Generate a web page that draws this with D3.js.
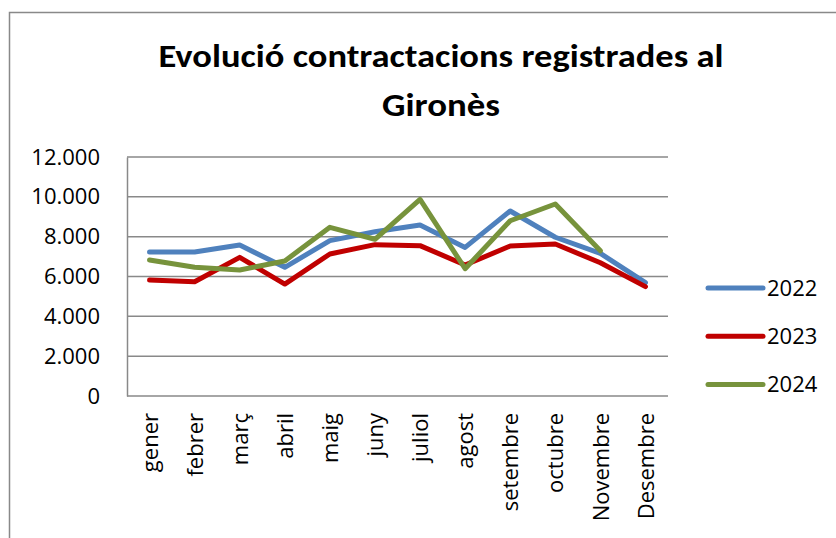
<!DOCTYPE html>
<html lang="ca">
  <head>
    <meta charset="utf-8" />
    <title>Evolució contractacions registrades al Gironès</title>
    <script src="https://d3js.org/d3.v7.min.js"></script>
    <style>
      body { margin: 0; background: #fff; }
      text { font-family: "Open Sans", sans-serif; fill: #000; }
      .title { font-family: Carlito, Calibri, Lato, sans-serif; }
    </style>
  </head>
  <body>
    <div id="chart"></div>
    <script>
      // data
      const months = ["gener", "febrer", "març", "abril", "maig", "juny", "juliol",
        "agost", "setembre", "octubre", "Novembre", "Desembre"];
      const years = ["2022", "2023", "2024"];
      const values2022 = [7230, 7230, 7580, 6460, 7800, 8250, 8590, 7460, 9290, 7970, 7160, 5690];
      const values2023 = [5820, 5740, 6960, 5620, 7130, 7600, 7550, 6580, 7530, 7630, 6690, 5490];
      const values2024 = [6830, 6460, 6330, 6780, 8470, 7870, 9870, 6390, 8800, 9640, 7290];
      const yTicks = [0, 2000, 4000, 6000, 8000, 10000, 12000];
      const titleLines = ["Evolució contractacions registrades al", "Gironès"];

      const W = 836, H = 538;
      const plot = { left: 127, right: 668, top: 157, bottom: 396 };
      const colors = ["#4f81bd", "#c00000", "#77933c"];
      const grey = "#898989";
      const labelFont = "'Open Sans', sans-serif";

      const svg = d3.select("#chart").append("svg")
        .attr("width", W).attr("height", H);

      // outer chart border (runs off the picture on right/bottom)
      svg.append("rect")
        .attr("x", 9.5).attr("y", 12.5)
        .attr("width", W + 20).attr("height", H + 20)
        .attr("fill", "none").attr("stroke", grey).attr("stroke-width", 1.5);

      // title
      svg.append("g").selectAll("text")
        .data(titleLines).enter().append("text")
        .attr("class", "title")
        .attr("x", 441)
        .attr("y", (d, i) => 67 + i * 49)
        .attr("text-anchor", "middle")
        .attr("font-size", 33)
        .attr("font-weight", "bold")
        .attr("textLength", (d, i) => i == 0 ? 565 : 118)
        .attr("lengthAdjust", "spacingAndGlyphs")
        .text(d => d);

      const x = d3.scalePoint().domain(months)
        .range([plot.left, plot.right]).padding(0.5);
      const y = d3.scaleLinear().domain([0, 12000])
        .range([plot.bottom, plot.top]);

      const fmt = d3.formatLocale({ decimal: ",", thousands: ".", grouping: [3], currency: ["", "€"] }).format(",");

      // gridlines
      svg.append("g").selectAll("line")
        .data(yTicks).enter().append("line")
        .attr("x1", plot.left).attr("x2", plot.right)
        .attr("y1", d => y(d)).attr("y2", d => y(d))
        .attr("stroke", grey).attr("stroke-width", 1.5);

      // y axis
      const yAxis = svg.append("g")
        .attr("transform", `translate(${plot.left},0)`)
        .call(d3.axisLeft(y).tickValues(yTicks).tickFormat(fmt).tickSize(0).tickPadding(27));
      yAxis.select(".domain").attr("stroke", grey).attr("stroke-width", 1.5);
      yAxis.selectAll("text")
        .attr("font-size", 22)
        .style("font-family", labelFont)
        .attr("fill", "#000");

      // x axis
      const xAxis = svg.append("g")
        .attr("transform", `translate(0,${plot.bottom})`)
        .call(d3.axisBottom(x).tickSize(0).tickSizeOuter(0));
      xAxis.select(".domain").remove();
      xAxis.selectAll("text")
        .attr("font-size", 22)
        .style("font-family", labelFont)
        .attr("fill", "#000")
        .attr("transform", "rotate(-90)")
        .attr("text-anchor", "end")
        .attr("x", -17)
        .attr("y", 0)
        .attr("dy", "0.35em");

      // lines
      const series = [values2022, values2023, values2024];
      const line = d3.line()
        .x((d, i) => x(months[i]))
        .y(d => y(d));
      svg.append("g").selectAll("path")
        .data(series).enter().append("path")
        .attr("d", d => line(d))
        .attr("fill", "none")
        .attr("stroke", (d, i) => colors[i])
        .attr("stroke-width", 5)
        .attr("stroke-linejoin", "round")
        .attr("stroke-linecap", "round");

      // legend
      const legend = svg.append("g").selectAll("g")
        .data(years).enter().append("g")
        .attr("transform", (d, i) => `translate(708,${288 + i * 48.3})`);
      legend.append("line")
        .attr("x1", 0).attr("x2", 55)
        .attr("stroke", (d, i) => colors[i])
        .attr("stroke-width", 5)
        .attr("stroke-linecap", "round");
      legend.append("text")
        .attr("x", 59).attr("dy", "0.35em")
        .attr("font-size", 22)
        .style("font-family", labelFont)
        .text(d => d);
    </script>
  </body>
</html>
